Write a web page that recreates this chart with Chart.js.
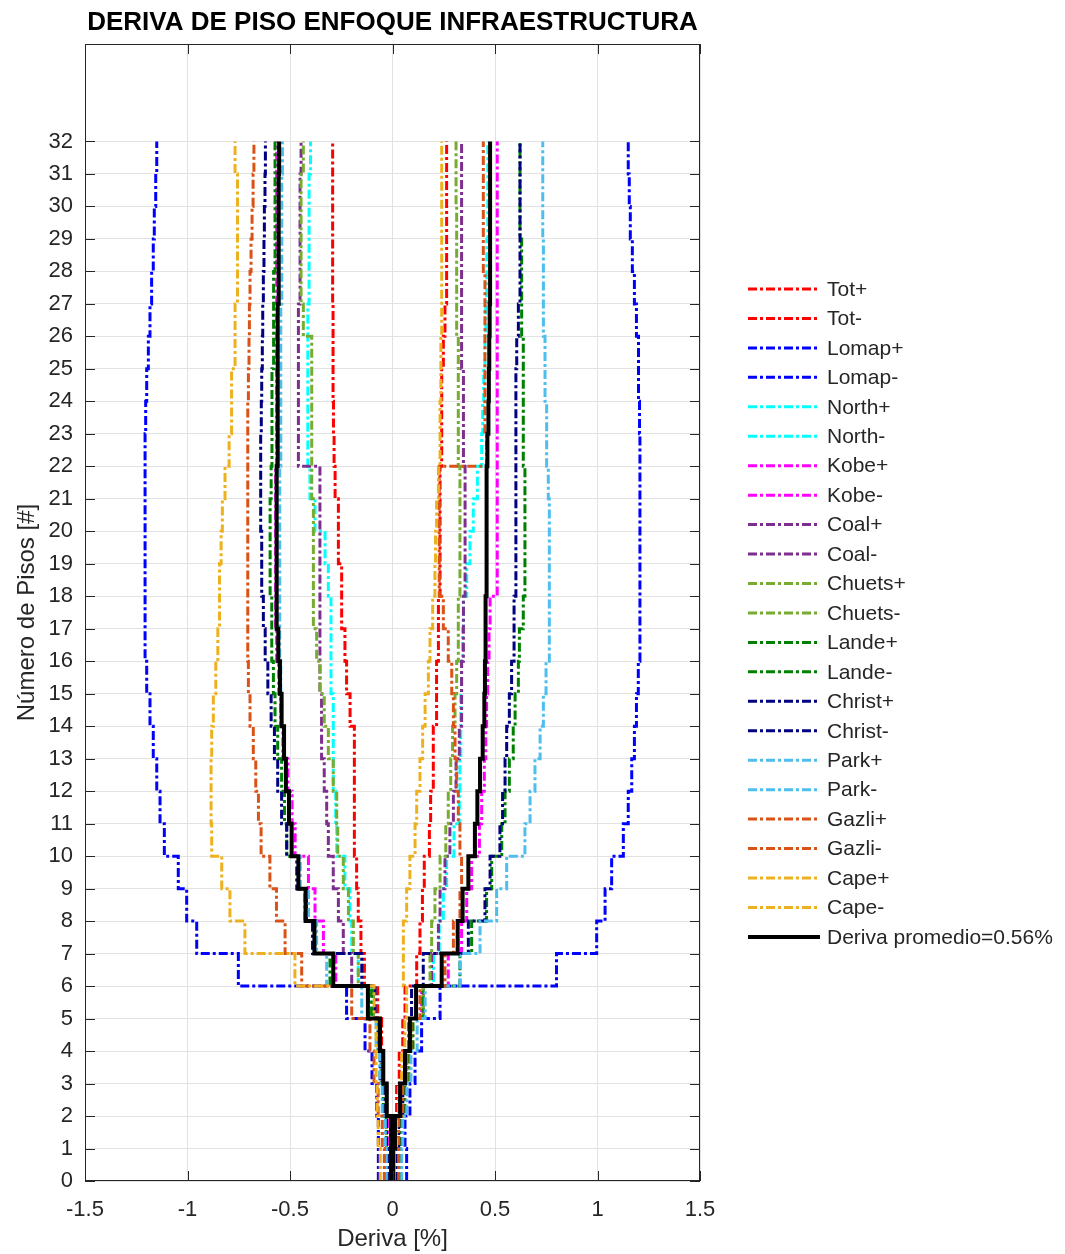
<!DOCTYPE html>
<html lang="es">
<head>
  <meta charset="UTF-8" />
  <title>Deriva de piso enfoque infraestructura</title>
  <script src="https://cdn.jsdelivr.net/npm/chart.js"></script>
  <style>
    body {
      margin: 0;
      background: #ffffff;
    }
    canvas {
      display: block;
    }
  </style>
</head>
<body>
  <canvas id="deriva" width="1065" height="1254"></canvas>

  <script>
    // pisos 1..32 ; cada valor es la deriva del piso (entre piso-1 y piso)
    const pisos = [1, 2, 3, 4, 5, 6, 7, 8, 9, 10, 11, 12, 13, 14, 15, 16, 17, 18, 19, 20, 21, 22, 23, 24, 25, 26, 27, 28, 29, 30, 31, 32];
    const ticksPisos = [0, 1, 2, 3, 4, 5, 6, 7, 8, 9, 10, 11, 12, 13, 14, 15, 16, 17, 18, 19, 20, 21, 22, 23, 24, 25, 26, 27, 28, 29, 30, 31, 32];

    const totMas = [0.005, 0.005, 0.02, 0.033, 0.05, 0.061, 0.118, 0.134, 0.146, 0.155, 0.18, 0.186, 0.199, 0.199, 0.215, 0.215, 0.224, 0.224, 0.232, 0.232, 0.232, 0.232, 0.24, 0.24, 0.24, 0.248, 0.256, 0.264, 0.264, 0.264, 0.264, 0.264];
    const totMenos = [-0.012, -0.012, -0.028, -0.045, -0.053, -0.072, -0.137, -0.154, -0.167, -0.175, -0.186, -0.186, -0.186, -0.186, -0.207, -0.224, -0.232, -0.248, -0.248, -0.264, -0.264, -0.28, -0.285, -0.288, -0.29, -0.29, -0.29, -0.292, -0.292, -0.292, -0.292, -0.292];
    const lomapMas = [0.069, 0.061, 0.085, 0.11, 0.142, 0.232, 0.80, 0.996, 1.037, 1.069, 1.126, 1.15, 1.167, 1.18, 1.19, 1.199, 1.207, 1.207, 1.207, 1.207, 1.207, 1.207, 1.207, 1.205, 1.20, 1.20, 1.19, 1.18, 1.17, 1.16, 1.155, 1.15];
    const lomapMenos = [-0.069, -0.069, -0.077, -0.10, -0.134, -0.224, -0.752, -0.955, -1.004, -1.045, -1.113, -1.134, -1.15, -1.167, -1.183, -1.199, -1.207, -1.207, -1.207, -1.207, -1.207, -1.207, -1.207, -1.204, -1.199, -1.191, -1.183, -1.175, -1.167, -1.162, -1.155, -1.15];
    const northMas = [0.03, 0.03, 0.05, 0.07, 0.09, 0.15, 0.20, 0.228, 0.248, 0.264, 0.30, 0.326, 0.329, 0.333, 0.333, 0.337, 0.342, 0.346, 0.362, 0.378, 0.394, 0.414, 0.435, 0.44, 0.445, 0.451, 0.455, 0.46, 0.46, 0.465, 0.465, 0.465];
    const northMenos = [-0.03, -0.03, -0.045, -0.06, -0.07, -0.10, -0.167, -0.199, -0.207, -0.232, -0.272, -0.277, -0.289, -0.289, -0.289, -0.30, -0.30, -0.30, -0.313, -0.329, -0.378, -0.403, -0.413, -0.413, -0.413, -0.413, -0.413, -0.407, -0.407, -0.407, -0.407, -0.40];
    const kobeMas = [0.03, 0.035, 0.05, 0.07, 0.09, 0.142, 0.272, 0.337, 0.362, 0.386, 0.424, 0.435, 0.448, 0.455, 0.459, 0.464, 0.471, 0.476, 0.511, 0.511, 0.511, 0.511, 0.511, 0.511, 0.511, 0.511, 0.511, 0.511, 0.511, 0.511, 0.511, 0.511];
    const kobeMenos = [-0.02, -0.025, -0.04, -0.055, -0.07, -0.118, -0.277, -0.337, -0.378, -0.41, -0.475, -0.49, -0.51, -0.535, -0.545, -0.555, -0.565, -0.57, -0.57, -0.57, -0.57, -0.57, -0.565, -0.565, -0.565, -0.565, -0.565, -0.565, -0.565, -0.565, -0.565, -0.565];
    const coalMas = [0.03, 0.035, 0.05, 0.07, 0.09, 0.15, 0.191, 0.224, 0.232, 0.256, 0.28, 0.297, 0.31, 0.326, 0.337, 0.337, 0.346, 0.346, 0.354, 0.354, 0.354, 0.354, 0.346, 0.346, 0.346, 0.337, 0.337, 0.337, 0.337, 0.337, 0.337, 0.337];
    const coalMenos = [-0.02, -0.03, -0.04, -0.055, -0.07, -0.093, -0.199, -0.24, -0.264, -0.289, -0.313, -0.321, -0.333, -0.346, -0.346, -0.354, -0.354, -0.354, -0.354, -0.354, -0.354, -0.354, -0.459, -0.459, -0.459, -0.459, -0.459, -0.451, -0.451, -0.451, -0.451, -0.446];
    const chuetsMas = [0.02, 0.03, 0.05, 0.07, 0.09, 0.15, 0.183, 0.191, 0.207, 0.232, 0.26, 0.272, 0.284, 0.293, 0.305, 0.313, 0.321, 0.321, 0.329, 0.329, 0.329, 0.329, 0.321, 0.321, 0.321, 0.321, 0.313, 0.313, 0.313, 0.313, 0.31, 0.31];
    const chuetsMenos = [-0.02, -0.03, -0.04, -0.05, -0.07, -0.093, -0.167, -0.191, -0.215, -0.24, -0.267, -0.272, -0.289, -0.313, -0.333, -0.354, -0.37, -0.386, -0.386, -0.386, -0.386, -0.394, -0.394, -0.394, -0.394, -0.394, -0.435, -0.446, -0.446, -0.446, -0.446, -0.435];
    const landeMas = [0.04, 0.045, 0.06, 0.08, 0.10, 0.15, 0.329, 0.386, 0.459, 0.484, 0.533, 0.549, 0.57, 0.589, 0.598, 0.614, 0.619, 0.638, 0.646, 0.646, 0.646, 0.646, 0.638, 0.638, 0.638, 0.638, 0.63, 0.63, 0.63, 0.622, 0.622, 0.622];
    const landeMenos = [-0.03, -0.03, -0.045, -0.055, -0.07, -0.102, -0.305, -0.378, -0.427, -0.459, -0.516, -0.527, -0.541, -0.56, -0.573, -0.581, -0.589, -0.589, -0.597, -0.597, -0.597, -0.592, -0.588, -0.588, -0.588, -0.58, -0.58, -0.58, -0.573, -0.573, -0.573, -0.573];
    const christMas = [0.02, 0.03, 0.05, 0.06, 0.08, 0.093, 0.15, 0.37, 0.451, 0.476, 0.524, 0.537, 0.549, 0.557, 0.57, 0.581, 0.593, 0.593, 0.602, 0.602, 0.602, 0.602, 0.602, 0.602, 0.602, 0.606, 0.614, 0.622, 0.622, 0.622, 0.622, 0.622];
    const christMenos = [-0.025, -0.03, -0.045, -0.06, -0.07, -0.085, -0.15, -0.39, -0.42, -0.467, -0.516, -0.541, -0.56, -0.576, -0.592, -0.608, -0.621, -0.63, -0.638, -0.638, -0.643, -0.643, -0.643, -0.64, -0.638, -0.635, -0.633, -0.63, -0.627, -0.625, -0.622, -0.62];
    const parkMas = [0.045, 0.05, 0.07, 0.09, 0.12, 0.159, 0.329, 0.427, 0.508, 0.557, 0.646, 0.671, 0.695, 0.72, 0.736, 0.749, 0.765, 0.765, 0.765, 0.765, 0.765, 0.76, 0.752, 0.752, 0.744, 0.744, 0.736, 0.736, 0.736, 0.733, 0.733, 0.733];
    const parkMenos = [-0.03, -0.035, -0.05, -0.06, -0.08, -0.15, -0.321, -0.37, -0.41, -0.45, -0.49, -0.50, -0.52, -0.53, -0.54, -0.545, -0.55, -0.55, -0.55, -0.55, -0.55, -0.55, -0.545, -0.545, -0.545, -0.545, -0.545, -0.54, -0.54, -0.54, -0.54, -0.537];
    const gazliMas = [0.03, 0.03, 0.05, 0.07, 0.09, 0.134, 0.256, 0.297, 0.329, 0.337, 0.329, 0.321, 0.313, 0.305, 0.297, 0.289, 0.272, 0.248, 0.228, 0.228, 0.228, 0.228, 0.459, 0.451, 0.451, 0.451, 0.451, 0.451, 0.443, 0.443, 0.443, 0.443];
    const gazliMenos = [-0.04, -0.05, -0.07, -0.09, -0.11, -0.199, -0.443, -0.524, -0.566, -0.598, -0.641, -0.654, -0.667, -0.679, -0.695, -0.703, -0.706, -0.706, -0.706, -0.706, -0.706, -0.706, -0.706, -0.706, -0.703, -0.70, -0.698, -0.695, -0.69, -0.685, -0.68, -0.676];
    const capeMas = [0.01, 0.02, 0.03, 0.045, 0.06, 0.069, 0.053, 0.053, 0.069, 0.085, 0.11, 0.118, 0.134, 0.147, 0.159, 0.175, 0.183, 0.196, 0.207, 0.21, 0.215, 0.224, 0.232, 0.232, 0.236, 0.236, 0.24, 0.24, 0.24, 0.24, 0.24, 0.24];
    const capeMenos = [-0.06, -0.07, -0.075, -0.08, -0.08, -0.09, -0.476, -0.72, -0.793, -0.833, -0.882, -0.885, -0.885, -0.882, -0.874, -0.862, -0.852, -0.844, -0.844, -0.836, -0.83, -0.817, -0.797, -0.785, -0.785, -0.768, -0.768, -0.756, -0.756, -0.756, -0.756, -0.768];
    const promedioMas = [0.004, 0.012, 0.037, 0.061, 0.085, 0.115, 0.24, 0.318, 0.342, 0.37, 0.402, 0.414, 0.427, 0.44, 0.448, 0.451, 0.454, 0.454, 0.459, 0.459, 0.459, 0.459, 0.463, 0.468, 0.47, 0.472, 0.474, 0.476, 0.476, 0.476, 0.476, 0.476];
    const promedioMenos = [-0.007, -0.007, -0.028, -0.045, -0.061, -0.12, -0.289, -0.381, -0.424, -0.459, -0.492, -0.505, -0.52, -0.529, -0.541, -0.549, -0.557, -0.565, -0.565, -0.565, -0.565, -0.565, -0.56, -0.56, -0.56, -0.56, -0.56, -0.555, -0.555, -0.555, -0.555, -0.553];

    const sismos = ['Tot+', 'Tot-', 'Lomap+', 'Lomap-', 'North+', 'North-', 'Kobe+', 'Kobe-', 'Coal+', 'Coal-',
      'Chuets+', 'Chuets-', 'Lande+', 'Lande-', 'Christ+', 'Christ-', 'Park+', 'Park-', 'Gazli+', 'Gazli-', 'Cape+', 'Cape-'];
    const valores = [totMas, totMenos, lomapMas, lomapMenos, northMas, northMenos, kobeMas, kobeMenos, coalMas, coalMenos,
      chuetsMas, chuetsMenos, landeMas, landeMenos, christMas, christMenos, parkMas, parkMenos, gazliMas, gazliMenos, capeMas, capeMenos];
    const colores = ['#ff0000', '#ff0000', '#0000ff', '#0000ff', '#00ffff', '#00ffff', '#ff00ff', '#ff00ff', '#7e2f8e', '#7e2f8e',
      '#77ac30', '#77ac30', '#008000', '#008000', '#000080', '#000080', '#4dbeee', '#4dbeee', '#d95319', '#d95319', '#edb120', '#edb120'];
    const etiquetaPromedio = 'Deriva promedio=0.56%';

    const guion = [9, 3, 3, 3];
    const textoColor = '#262626';

    // escalera: valor constante entre piso-1 y piso
    function escalera(vals) {
      const pts = vals.map((v, i) => ({ x: v, y: pisos[i] - 1 }));
      pts.push({ x: vals[vals.length - 1], y: pisos[pisos.length - 1] });
      return pts;
    }

    const datasets = sismos.map((nombre, i) => ({
      label: nombre,
      data: escalera(valores[i]),
      borderColor: colores[i],
      borderWidth: 3,
      borderDash: guion,
      showLine: true,
      stepped: 'after',
      pointRadius: 0,
      fill: false,
      order: -i
    }));
    datasets.push({
      label: etiquetaPromedio, data: escalera(promedioMas), borderColor: '#000000', borderWidth: 4,
      showLine: true, stepped: 'after', pointRadius: 0, fill: false, order: -100
    });
    datasets.push({
      label: etiquetaPromedio, data: escalera(promedioMenos), borderColor: '#000000', borderWidth: 4,
      showLine: true, stepped: 'after', pointRadius: 0, fill: false, order: -101, sinLeyenda: true
    });

    const marco = {
      id: 'marco',
      afterDatasetsDraw(chart) {
        const { ctx, chartArea: a, scales } = chart;
        ctx.save();
        ctx.strokeStyle = textoColor;
        ctx.lineWidth = 1;
        ctx.setLineDash([]);
        ctx.strokeRect(a.left + 0.5, a.top + 0.5, a.right - a.left - 1, a.bottom - a.top - 1);
        ctx.beginPath();
        scales.x.ticks.forEach(t => {
          const px = Math.round(scales.x.getPixelForValue(t.value)) + 0.5;
          ctx.moveTo(px, a.bottom); ctx.lineTo(px, a.bottom - 10);
          ctx.moveTo(px, a.top); ctx.lineTo(px, a.top + 10);
        });
        scales.y.ticks.forEach(t => {
          const py = Math.round(scales.y.getPixelForValue(t.value)) + 0.5;
          ctx.moveTo(a.left, py); ctx.lineTo(a.left + 10, py);
          ctx.moveTo(a.right, py); ctx.lineTo(a.right - 10, py);
        });
        ctx.stroke();
        ctx.restore();
      },
      afterDraw(chart) {
        const { ctx, chartArea: a } = chart;
        ctx.save();
        // titulo
        ctx.fillStyle = '#000000';
        ctx.font = 'bold 26px "Liberation Sans", Arial, sans-serif';
        ctx.textAlign = 'center';
        ctx.textBaseline = 'middle';
        ctx.fillText('DERIVA DE PISO ENFOQUE INFRAESTRUCTURA', (a.left + a.right) / 2, 23);

        // leyenda
        ctx.font = '21px "Liberation Sans", Arial, sans-serif';
        ctx.textAlign = 'left';
        let fila = 0;
        chart.data.datasets.forEach(ds => {
          if (ds.sinLeyenda) return;
          const y = 289 + fila * 29.45;
          ctx.strokeStyle = ds.borderColor;
          ctx.lineWidth = ds.borderWidth;
          ctx.setLineDash(ds.borderDash || []);
          ctx.beginPath();
          ctx.moveTo(748, y);
          ctx.lineTo(820, y);
          ctx.stroke();
          ctx.setLineDash([]);
          ctx.fillStyle = textoColor;
          ctx.fillText(ds.label, 827, y + 1);
          fila++;
        });
        ctx.restore();
      }
    };

    const fuenteTicks = { family: '"Liberation Sans", Arial, sans-serif', size: 22 };
    const fuenteTitulo = { family: '"Liberation Sans", Arial, sans-serif', size: 24 };

    new Chart(document.getElementById('deriva'), {
      type: 'scatter',
      data: { datasets },
      options: {
        responsive: false,
        animation: false,
        devicePixelRatio: 1,
        layout: { padding: { top: 44, right: 365, left: 0, bottom: 0 } },
        plugins: {
          legend: { display: false },
          title: { display: false },
          tooltip: { enabled: false }
        },
        scales: {
          x: {
            type: 'linear',
            min: -1.5,
            max: 1.5,
            ticks: { stepSize: 0.5, font: fuenteTicks, color: textoColor, padding: 16, maxRotation: 0, callback: v => String(v) },
            grid: { color: '#e2e2e2', drawTicks: false },
            border: { display: false },
            title: { display: true, text: 'Deriva [%]', font: fuenteTitulo, color: textoColor, padding: { top: -2, bottom: 0 } },
            afterFit(s) { s.height = 73; }
          },
          y: {
            type: 'linear',
            min: 0,
            max: 35,
            afterBuildTicks(s) { s.ticks = ticksPisos.map(v => ({ value: v })); },
            ticks: { font: fuenteTicks, color: textoColor, padding: 12, autoSkip: false },
            grid: { color: '#e2e2e2', drawTicks: false },
            border: { display: false },
            title: { display: true, text: 'Número de Pisos [#]', font: fuenteTitulo, color: textoColor, padding: { top: 13, bottom: 0 } },
            afterFit(s) { s.width = 85; }
          }
        }
      },
      plugins: [marco]
    });
  </script>
</body>
</html>
